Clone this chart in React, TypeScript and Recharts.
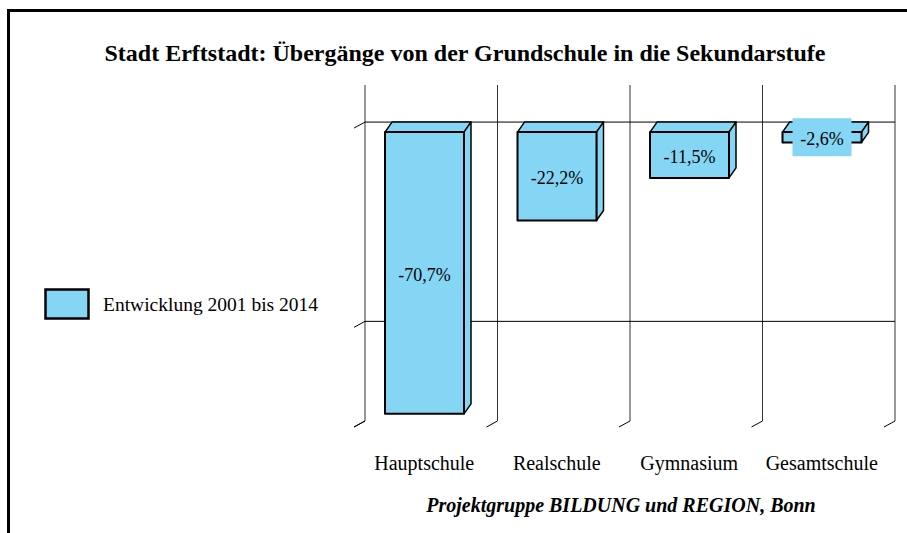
import { Bar, BarChart, CartesianGrid, LabelList, XAxis, YAxis } from "recharts";

const categories = ["Hauptschule", "Realschule", "Gymnasium", "Gesamtschule"];
const changes = [-70.7, -22.2, -11.5, -2.6];
const gridValues = [0, -50];
const axisTicks = [-75, -50, 0];
const seriesName = "Entwicklung 2001 bis 2014";
const title = "Stadt Erftstadt: Übergänge von der Grundschule in die Sekundarstufe";
const source = "Projektgruppe BILDUNG und REGION, Bonn";

const data = categories.map((name, i) => ({ name, value: changes[i] }));

const W = 907;
const H = 533;
const margin = { top: 85, right: 12, bottom: 82, left: 345 };
const Y_AXIS_W = 20;
const X_AXIS_H = 30;
const plotLeft = margin.left + Y_AXIS_W;
const plotWidth = W - plotLeft - margin.right;
const band = plotWidth / categories.length;

// depth of the fake 3d boxes (front face is shifted left/down)
const DX = 7;
const DY = 10;
const fill = "#84D6F4";
const serif = '"Liberation Serif", "Times New Roman", serif';

const fmt = (v: number) => `${v.toFixed(1).replace(".", ",")}%`;

function Box3D(props: any) {
  const { x, y, width, height } = props;
  const top = Math.min(y, y + height);
  const h = Math.abs(height);
  const fx = x - DX;
  const fy = top + DY;
  return (
    <g stroke="#000" strokeLinejoin="round">
      <polygon
        points={`${fx},${fy} ${x},${top} ${x + width},${top} ${fx + width},${fy}`}
        fill={fill}
        strokeWidth={1.5}
      />
      <polygon
        points={`${fx + width},${fy} ${x + width},${top} ${x + width},${top + h} ${fx + width},${fy + h}`}
        fill={fill}
        strokeWidth={1.5}
      />
      <rect x={fx} y={fy} width={width} height={h} fill={fill} strokeWidth={2} />
    </g>
  );
}

function ValueLabel(props: any) {
  const vb = props.viewBox ?? props;
  const { x, y, width, height } = vb;
  const top = Math.min(y, y + height);
  const h = Math.abs(height);
  const cx = x - DX + width / 2;
  const cy = top + DY + h / 2;
  const text = fmt(Number(props.value));
  const w = 9 * (text.length - 1) + 15 + 8;
  return (
    <g>
      <rect x={cx - w / 2} y={cy - 19} width={w} height={38} fill={fill} />
      <text
        x={cx}
        y={cy + 8}
        textAnchor="middle"
        fontFamily={serif}
        fontSize={18}
        fill="#000"
      >
        {text}
      </text>
    </g>
  );
}

function CategoryTick(props: any) {
  const { x, y, payload } = props;
  const index = props.index ?? payload.index;
  const left = x - band / 2;
  return (
    <g stroke="#000">
      <line x1={left} y1={y} x2={left - 11} y2={y + 6} />
      {index === categories.length - 1 && (
        <line x1={x + band / 2} y1={y} x2={x + band / 2 - 11} y2={y + 6} />
      )}
      <text
        x={x - DX}
        y={y + 49}
        textAnchor="middle"
        fontFamily={serif}
        fontSize={20}
        fill="#000"
        stroke="none"
      >
        {payload.value}
      </text>
    </g>
  );
}

function WallTick(props: any) {
  const { x, y } = props;
  return <line x1={x} y1={y} x2={x - 11} y2={y + 6} stroke="#000" />;
}

export default function App() {
  return (
    <div
      style={{
        position: "absolute",
        left: 0,
        top: 0,
        width: W,
        height: H,
        overflow: "hidden",
        background: "#fff",
      }}
    >
      <div
        style={{
          position: "absolute",
          left: 7,
          top: 9,
          width: 1200,
          height: 800,
          borderLeft: "3px solid #000",
          borderTop: "3px solid #000",
        }}
      />
      <div style={{ position: "absolute", left: 0, top: 0 }}>
        <BarChart width={W} height={H} data={data} margin={margin}>
          <CartesianGrid
            horizontal={false}
            stroke="#333"
            verticalCoordinatesGenerator={(p: any) => {
              const left = p?.offset?.left ?? plotLeft;
              const width = p?.offset?.width ?? plotWidth;
              return categories
                .map((_, i) => left + (i * width) / categories.length)
                .concat(left + width);
            }}
          />
          <CartesianGrid vertical={false} horizontalValues={gridValues} stroke="#000" />
          <XAxis
            dataKey="name"
            height={X_AXIS_H}
            axisLine={false}
            tickLine={false}
            tickSize={0}
            tickMargin={0}
            interval={0}
            tick={<CategoryTick />}
          />
          <YAxis
            width={Y_AXIS_W}
            domain={[-75, 9.3]}
            ticks={axisTicks}
            axisLine={false}
            tickLine={false}
            tickSize={0}
            tickMargin={0}
            tick={<WallTick />}
          />
          <Bar
            dataKey="value"
            name={seriesName}
            barSize={79}
            shape={<Box3D />}
            isAnimationActive={false}
          >
            <LabelList dataKey="value" content={<ValueLabel />} />
          </Bar>
        </BarChart>
      </div>
      <svg
        width={W}
        height={H}
        style={{ position: "absolute", left: 0, top: 0, pointerEvents: "none" }}
      >
        <text x={465} y={61} textAnchor="middle" fontFamily={serif} fontSize={24} fontWeight="bold">
          {title}
        </text>
        <rect x={45.5} y={289.5} width={43} height={29} fill={fill} stroke="#000" strokeWidth={2.5} />
        <text x={103} y={311} fontFamily={serif} fontSize={19.5}>
          {seriesName}
        </text>
        <text
          x={621}
          y={512}
          textAnchor="middle"
          fontFamily={serif}
          fontSize={20}
          fontWeight="bold"
          fontStyle="italic"
        >
          {source}
        </text>
      </svg>
    </div>
  );
}
